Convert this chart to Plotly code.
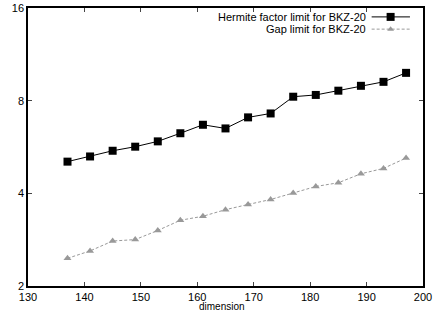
import plotly.graph_objects as go

dimension = [137, 141, 145, 149, 153, 157, 161, 165, 169, 173, 177, 181, 185, 189, 193, 197]
hermite_limit = [5.07, 5.27, 5.50, 5.67, 5.90, 6.27, 6.68, 6.50, 7.06, 7.27, 8.24, 8.35, 8.62, 8.94, 9.21, 9.85]
gap_limit = [2.46, 2.60, 2.80, 2.83, 3.03, 3.27, 3.37, 3.54, 3.68, 3.82, 4.01, 4.21, 4.33, 4.63, 4.82, 5.21]
series_names = ["Hermite factor limit for BKZ-20", "Gap limit for BKZ-20"]
x_ticks = [130, 140, 150, 160, 170, 180, 190, 200]
y_ticks = [2, 4, 8, 16]

GRAY = "#999999"
FONT = "Liberation Sans, Arial, sans-serif"
DASH = "3px,2px"

fig = go.Figure()
fig.add_trace(go.Scatter(x=dimension, y=hermite_limit, mode="lines+markers",
                         name=series_names[0],
                         line=dict(color="black", width=1),
                         marker=dict(symbol="square", size=8, color="black")))
fig.add_trace(go.Scatter(x=dimension, y=gap_limit, mode="lines+markers",
                         name=series_names[1],
                         line=dict(color=GRAY, width=1, dash=DASH),
                         marker=dict(symbol="triangle-up", size=7, color=GRAY)))

# legend drawn manually (text left of sample, like gnuplot)
legend_y = [0.968, 0.924]
for name, y in zip(series_names, legend_y):
    fig.add_annotation(x=0.862, y=y, xref="paper", yref="paper", text=name,
                       showarrow=False, xanchor="right", yanchor="middle",
                       font=dict(family=FONT, size=11, color="black"))
fig.add_shape(type="line", xref="paper", yref="paper", x0=0.870, x1=0.967,
              y0=legend_y[0], y1=legend_y[0], line=dict(color="black", width=1))
fig.add_shape(type="line", xref="paper", yref="paper", x0=0.870, x1=0.967,
              y0=legend_y[1], y1=legend_y[1], line=dict(color=GRAY, width=1, dash=DASH))
fig.add_trace(go.Scatter(x=[0.918], y=[legend_y[0]], xaxis="x2", yaxis="y2", mode="markers",
                         marker=dict(symbol="square", size=8, color="black"),
                         showlegend=False, hoverinfo="skip"))
fig.add_trace(go.Scatter(x=[0.918], y=[legend_y[1]], xaxis="x2", yaxis="y2", mode="markers",
                         marker=dict(symbol="triangle-up", size=6, color=GRAY),
                         showlegend=False, hoverinfo="skip"))

fig.add_annotation(text="dimension", xref="paper", yref="paper", x=0.49, y=0,
                   yshift=-13, xanchor="center", yanchor="top", showarrow=False,
                   font=dict(family=FONT, size=10, color="black"))

fig.update_layout(
    width=439, height=312,
    margin=dict(l=28, r=16, t=8, b=26),
    paper_bgcolor="white", plot_bgcolor="white",
    showlegend=False,
    font=dict(family=FONT, size=11, color="black"),
    xaxis=dict(range=[130, 200], tickvals=x_ticks, ticks="inside", ticklen=4,
               showline=True, linecolor="black", linewidth=1.5, mirror="ticks",
               showgrid=False, zeroline=False, tickfont=dict(size=11), automargin=False),
    yaxis=dict(type="log", range=[0.30103, 1.20412], tickvals=y_ticks, ticks="inside",
               ticklen=4, showline=True, linecolor="black", linewidth=1.5, mirror="ticks",
               showgrid=False, zeroline=False, tickfont=dict(size=11), automargin=False),
    xaxis2=dict(range=[0, 1], overlaying="x", visible=False, anchor="y2", automargin=False),
    yaxis2=dict(range=[0, 1], overlaying="y", visible=False, anchor="x2", automargin=False),
)

fig.write_html("out.html", config={"displayModeBar": False},
               post_script="document.body.style.margin='0';")
